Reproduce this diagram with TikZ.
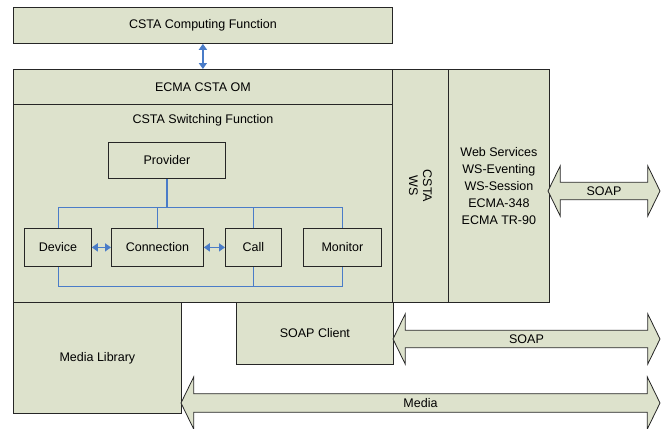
\documentclass[tikz,border=0pt]{standalone}
\usepackage{fontspec}
\setmainfont{Liberation Sans}
\usepackage{tikz}
\usetikzlibrary{positioning, arrows.meta, shapes.arrows}

\definecolor{boxfill}{RGB}{221,226,204}
\definecolor{linkblue}{RGB}{74,124,200}

\begin{document}
\begin{tikzpicture}[x=1pt, y=-1pt,
    box/.style={draw=black!85, fill=boxfill, line width=0.8pt, inner sep=0pt, anchor=north west},
    item/.style={box, minimum height=38pt},
    bus/.style={linkblue, line width=0.8pt},
    link/.style={linkblue, line width=1.6pt, <->, >={Triangle[length=6pt,width=8pt]}},
    bigarrow/.style={double arrow, draw=black!85, fill=boxfill, line width=0.8pt,
      inner sep=0pt, minimum width=50pt, double arrow head extend=9pt,
      double arrow tip angle=128}]
        \tikzset{every node/.style={font=\fontsize{12.5}{14}\selectfont}}
        \useasboundingbox (0,0) rectangle (665,429);

        % Top level blocks
        \node[box, minimum width=379pt, minimum height=36pt] (computing) at (13,7) {};
        \node at (computing.center) {CSTA Computing Function};
        \node[box, minimum width=379pt, minimum height=35pt] (om) at (13,69) {};
        \node at (om.center) {ECMA CSTA OM};
        \node[box, minimum width=379pt, minimum height=198pt] (switching) at (13,104) {};
        \node at (203,120) {CSTA Switching Function};

        % Web services columns
        \node[box, minimum width=56pt, minimum height=233pt] (cstaws) at (392,69) {};
        \node[rotate=-90, align=center] at (cstaws.center) {CSTA\\WS};
        \node[box, minimum width=101pt, minimum height=233pt] (websvc) at (448,69) {};
        \node[align=center, font=\fontsize{12.5}{17}\selectfont] at (websvc.center)
          {Web Services\\WS-Eventing\\WS-Session\\ECMA-348\\ECMA TR-90};

        % Objects of the switching function
        \node[box, minimum width=117pt, minimum height=36pt] (provider) at (108,142) {};
        \node at (provider.center) {Provider};
        \node[item, minimum width=67pt] (device) at (24,228) {};
        \node[item, minimum width=92pt] (connection) at (111,228) {};
        \node[item, minimum width=56pt] (call) at (225,228) {};
        \node[item, minimum width=78pt] (monitor) at (303,228) {};
        \foreach \n/\t in {device/Device, connection/Connection, call/Call, monitor/Monitor}
          \node at (\n.center) {\t};

        % Lower blocks
        \node[box, minimum width=168pt, minimum height=111pt] (medialib) at (13,302) {};
        \node at (medialib.center) {Media Library};
        \node[box, minimum width=157pt, minimum height=62pt] (soapclient) at (236,302) {};
        \node at (soapclient.center) {SOAP Client};

        % Bus lines above and below the objects
        \coordinate (upper) at (0,207);
        \coordinate (lower) at (0,286);
        \draw[bus, line width=1.6pt] (provider.south) -- (provider.south |- upper);
        \draw[bus] (device.north) -- (device.north |- upper) -- (monitor.north |- upper) -- (monitor.north);
        \foreach \n in {connection, call}
          \draw[bus] (\n.north) -- (\n.north |- upper);
        \draw[bus] (device.south) -- (device.south |- lower) -- (monitor.south |- lower) -- (monitor.south);
        \draw[bus] (call.south) -- (call.south |- lower);

        % Associations
        \draw[link] (device) -- (connection);
        \draw[link] (connection) -- (call);
        \draw[link] (computing) -- (om);

        % Protocol arrows
        \node[bigarrow, minimum height=112pt] (soapws) at (604,191) {SOAP};
        \node[bigarrow, minimum height=267pt] (soapcl) at (526.5,339) {SOAP};
        \node[bigarrow, minimum height=479pt, minimum width=52pt] (media) at (420.5,403) {Media};
\end{tikzpicture}
\end{document}
